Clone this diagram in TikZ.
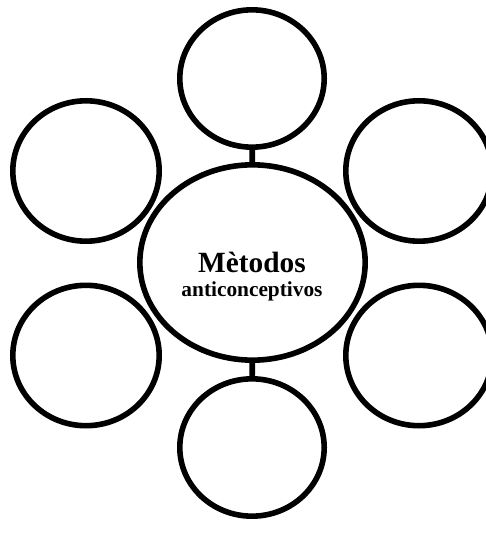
\documentclass[tikz,border=0pt]{standalone}
\usepackage{fontspec}
\setmainfont{Liberation Serif}
\usetikzlibrary{shapes.geometric}

\begin{document}
\begin{tikzpicture}[x=0.75pt, y=-0.75pt, line width=4.2pt,
  bubble/.style={draw, ellipse, minimum width=108.3pt, minimum height=103pt},
  sidebubble/.style={draw, ellipse, minimum width=109.8pt, minimum height=105.3pt}]
  \useasboundingbox (0,0) rectangle (485,545);
  % Centre
  \node[draw, ellipse, minimum width=169pt, minimum height=146.5pt] (mid) at (252.5,262.5) {};
  \node[font=\fontsize{16}{18}\selectfont\bfseries, align=center, inner sep=0pt] (title) at (252,277)
    {{\fontsize{22}{18}\selectfont M\`etodos}\\anticonceptivos};
  % Top and bottom
  \node[bubble] (top) at (252,78.5) {};
  \node[bubble] (bottom) at (252,447.5) {};
  % Sides
  \node[sidebubble] (upleft) at (86,171) {};
  \node[sidebubble] (lowleft) at (86,355.5) {};
  \node[sidebubble] (upright) at (419,171) {};
  \node[sidebubble] (lowright) at (419,355.5) {};
  % Stubs
  \draw (top) -- (mid);
  \draw (mid) -- (bottom);
\end{tikzpicture}
\end{document}
